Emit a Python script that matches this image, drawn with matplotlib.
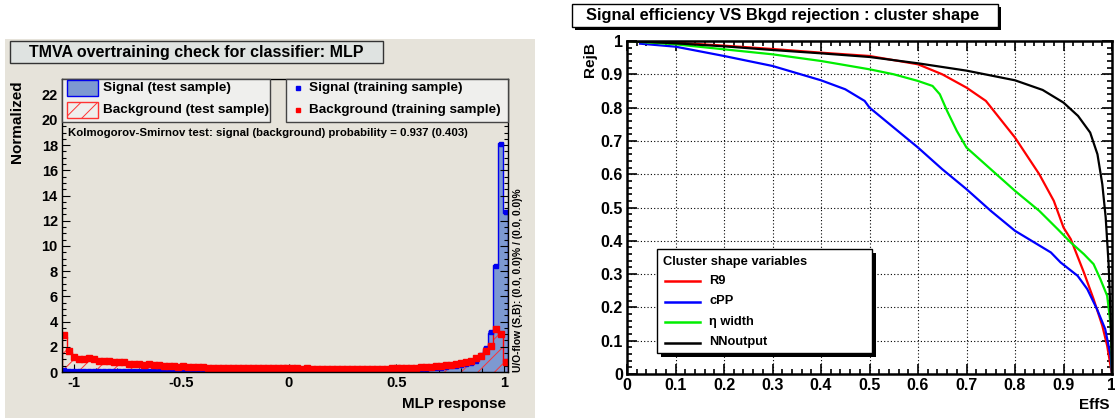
import numpy as np
import matplotlib
matplotlib.use("Agg")
import matplotlib.pyplot as plt
from matplotlib.patches import Rectangle
from matplotlib.ticker import MultipleLocator, FixedLocator

plt.rcParams["font.family"] = ["Liberation Sans", "DejaVu Sans"]
plt.rcParams["font.weight"] = "bold"
plt.rcParams["hatch.linewidth"] = 0.7

# ---- left panel: MLP response histograms (90 bins) ----
mlp_range = (-1.056, 1.019)
n_bins = 90

sig_test = [
    0.16, 0.06, 0.05, 0.05, 0.04, 0.05, 0.04, 0.05, 0.05, 0.04,
    0.05, 0.05, 0.05, 0.06, 0.05, 0.06, 0.06, 0.05, 0.06, 0.06,
    0.06, 0.07, 0.06, 0.07, 0.07, 0.06, 0.07, 0.07, 0.08, 0.07,
    0.07, 0.08, 0.07, 0.08, 0.08, 0.07, 0.08, 0.08, 0.08, 0.09,
    0.08, 0.09, 0.08, 0.09, 0.09, 0.08, 0.09, 0.10, 0.09, 0.09,
    0.10, 0.09, 0.10, 0.10, 0.10, 0.11, 0.10, 0.11, 0.11, 0.12,
    0.12, 0.12, 0.13, 0.13, 0.14, 0.14, 0.15, 0.16, 0.17, 0.18,
    0.19, 0.20, 0.22, 0.24, 0.26, 0.30, 0.33, 0.37, 0.42, 0.48,
    0.55, 0.62, 0.72, 0.85, 1.30, 1.80, 3.10, 8.50, 18.2, 12.6,
]
bkg_test = [
    2.80, 1.60, 1.20, 0.95, 1.00, 1.05, 1.10, 0.85, 0.90, 0.85,
    0.80, 0.82, 0.78, 0.62, 0.65, 0.60, 0.55, 0.58, 0.55, 0.57,
    0.50, 0.46, 0.45, 0.40, 0.44, 0.42, 0.36, 0.40, 0.38, 0.30,
    0.34, 0.33, 0.30, 0.32, 0.30, 0.29, 0.31, 0.30, 0.28, 0.30,
    0.30, 0.29, 0.31, 0.30, 0.28, 0.29, 0.30, 0.27, 0.28, 0.27,
    0.26, 0.27, 0.25, 0.26, 0.25, 0.27, 0.24, 0.25, 0.26, 0.24,
    0.23, 0.24, 0.22, 0.26, 0.25, 0.28, 0.27, 0.30, 0.29, 0.30,
    0.32, 0.33, 0.35, 0.38, 0.40, 0.44, 0.48, 0.52, 0.55, 0.60,
    0.68, 0.78, 0.88, 1.05, 1.25, 1.65, 2.20, 3.40, 3.00, 0.80,
]
sig_train = [
    0.15, 0.05, 0.05, 0.04, 0.05, 0.04, 0.05, 0.05, 0.04, 0.05,
    0.05, 0.06, 0.05, 0.05, 0.06, 0.06, 0.05, 0.06, 0.06, 0.07,
    0.06, 0.06, 0.07, 0.07, 0.06, 0.07, 0.07, 0.08, 0.07, 0.08,
    0.08, 0.07, 0.08, 0.08, 0.07, 0.08, 0.09, 0.08, 0.09, 0.08,
    0.09, 0.08, 0.09, 0.09, 0.10, 0.09, 0.09, 0.09, 0.10, 0.10,
    0.09, 0.10, 0.11, 0.10, 0.11, 0.10, 0.11, 0.12, 0.11, 0.12,
    0.13, 0.12, 0.13, 0.14, 0.13, 0.15, 0.16, 0.16, 0.18, 0.19,
    0.20, 0.21, 0.23, 0.25, 0.28, 0.31, 0.35, 0.38, 0.44, 0.50,
    0.57, 0.65, 0.75, 0.90, 1.35, 1.90, 3.20, 8.40, 18.1, 12.7,
]
bkg_train = [
    2.90, 1.70, 1.20, 1.00, 1.00, 1.10, 1.05, 0.90, 0.88, 0.85,
    0.82, 0.80, 0.80, 0.60, 0.66, 0.62, 0.57, 0.60, 0.52, 0.58,
    0.48, 0.47, 0.44, 0.42, 0.45, 0.40, 0.38, 0.42, 0.37, 0.32,
    0.35, 0.32, 0.31, 0.33, 0.29, 0.30, 0.32, 0.29, 0.30, 0.31,
    0.29, 0.30, 0.32, 0.29, 0.30, 0.28, 0.31, 0.28, 0.27, 0.28,
    0.27, 0.26, 0.26, 0.27, 0.24, 0.26, 0.25, 0.26, 0.25, 0.25,
    0.24, 0.23, 0.24, 0.25, 0.27, 0.27, 0.29, 0.29, 0.31, 0.31,
    0.33, 0.35, 0.36, 0.40, 0.42, 0.46, 0.50, 0.55, 0.57, 0.62,
    0.70, 0.80, 0.90, 1.10, 1.30, 1.70, 2.10, 3.40, 3.00, 0.80,
]
mlp_ticks = [-1, -0.5, 0, 0.5, 1]
mlp_ticklabels = ["-1", "-0.5", "0", "0.5", "1"]
norm_ticks = [0, 2, 4, 6, 8, 10, 12, 14, 16, 18, 20, 22]

# ---- right panel: ROC curves ----
effs_r9 = [0, 0.1, 0.2, 0.3, 0.4, 0.5, 0.6, 0.65, 0.7, 0.74, 0.8, 0.85, 0.88,
           0.9, 0.915, 0.942, 0.962, 0.98, 0.99, 0.998, 1.0]
rejb_r9 = [1, 0.995, 0.986, 0.976, 0.965, 0.955, 0.93, 0.9, 0.86, 0.82, 0.71,
           0.6, 0.52, 0.44, 0.405, 0.305, 0.225, 0.145, 0.085, 0.015, 0]
effs_cpp = [0.027, 0.1, 0.2, 0.3, 0.4, 0.45, 0.49, 0.5, 0.55, 0.6, 0.65, 0.7,
            0.75, 0.8, 0.874, 0.894, 0.929, 0.949, 0.969, 0.986, 0.997, 1.0]
rejb_cpp = [0.992, 0.983, 0.955, 0.925, 0.882, 0.855, 0.82, 0.80, 0.74, 0.68,
            0.615, 0.555, 0.49, 0.43, 0.365, 0.335, 0.295, 0.255, 0.195, 0.135,
            0.055, 0.0]
effs_eta = [0, 0.1, 0.2, 0.3, 0.4, 0.5, 0.55, 0.6, 0.63, 0.645, 0.66, 0.68, 0.7,
            0.75, 0.8, 0.85, 0.888, 0.915, 0.942, 0.962, 0.976, 0.99, 0.995,
            0.998, 0.999, 1.0]
rejb_eta = [1, 0.99, 0.975, 0.96, 0.94, 0.915, 0.9, 0.88, 0.865, 0.84, 0.79,
            0.73, 0.68, 0.615, 0.55, 0.49, 0.435, 0.395, 0.36, 0.33, 0.285,
            0.235, 0.175, 0.135, 0.08, 0.0]
effs_nn = [0, 0.1, 0.2, 0.3, 0.4, 0.5, 0.6, 0.7, 0.8, 0.857, 0.9, 0.93, 0.955,
           0.97, 0.98, 0.987, 0.993, 0.997, 1.0]
rejb_nn = [1, 0.993, 0.984, 0.973, 0.963, 0.952, 0.933, 0.911, 0.882, 0.853,
           0.815, 0.775, 0.725, 0.66, 0.57, 0.47, 0.33, 0.18, 0.0]
roc_names = ["R9", "cPP", "\u03b7 width", "NNoutput"]
roc_colors = ["#ff0000", "#0000ff", "#00ee00", "#000000"]
roc_ticks = [0, 0.1, 0.2, 0.3, 0.4, 0.5, 0.6, 0.7, 0.8, 0.9, 1]
roc_ticklabels = ["0", "0.1", "0.2", "0.3", "0.4", "0.5", "0.6", "0.7", "0.8", "0.9", "1"]

W, H = 1115, 418
BEIGE = "#e6e3da"


def frac(x0, y0, x1, y1):
    # pixel box (top-left origin) -> figure fraction rect
    return [x0 / W, 1 - y1 / H, (x1 - x0) / W, (y1 - y0) / H]


fig = plt.figure(figsize=(W / 100, H / 100), dpi=100)

bg = fig.add_axes([0, 0, 1, 1], zorder=-5)
bg.set_xlim(0, W)
bg.set_ylim(H, 0)
bg.axis("off")
bg.add_patch(Rectangle((5, 39), 530, 380, facecolor=BEIGE, edgecolor="none"))

# ---------- left: overtraining check ----------
ax = fig.add_axes(frac(62, 79, 508, 372))
ax.set_facecolor(BEIGE)
edges = np.linspace(mlp_range[0], mlp_range[1], n_bins + 1)
centers = 0.5 * (edges[:-1] + edges[1:])
half = 0.5 * (edges[1] - edges[0])

ax.stairs(sig_test, edges, fill=True, facecolor="#7d99d1", edgecolor="none")
ax.stairs(sig_test, edges, color="#0000ee", lw=1.0)
ax.stairs(bkg_test, edges, fill=True, facecolor="none", edgecolor="#ff3333",
          hatch="//", lw=0)
ax.stairs(bkg_test, edges, color="#ff0000", lw=1.0)
ax.errorbar(centers, sig_train, xerr=half, fmt="s", ms=3.2, color="#0000ee",
            elinewidth=2.0, capsize=0)
ax.errorbar(centers, bkg_train, xerr=half, fmt="s", ms=3.8, color="#ff0000",
            elinewidth=2.4, capsize=0)

ax.set_xlim(*mlp_range)
ax.set_ylim(0, 23.25)
ax.xaxis.set_major_locator(FixedLocator(mlp_ticks))
ax.set_xticklabels(mlp_ticklabels)
ax.xaxis.set_minor_locator(MultipleLocator(0.1))
ax.set_yticks(norm_ticks)
ax.yaxis.set_minor_locator(MultipleLocator(0.5))
ax.tick_params(which="both", direction="in", top=True, right=True,
               labelsize=10.5, pad=3, width=0.8)
ax.tick_params(which="major", length=6)
ax.tick_params(which="minor", length=3)
for s in ax.spines.values():
    s.set_linewidth(1.0)

# ---------- right: ROC ----------
ax2 = fig.add_axes(frac(627, 41, 1112, 374))
for e, r, c in zip([effs_r9, effs_cpp, effs_eta, effs_nn],
                   [rejb_r9, rejb_cpp, rejb_eta, rejb_nn], roc_colors):
    ax2.plot(e, r, color=c, lw=1.6, zorder=3)
ax2.set_xlim(0, 1)
ax2.set_ylim(0, 1)
ax2.set_xticks(roc_ticks)
ax2.set_xticklabels(roc_ticklabels)
ax2.set_yticks(roc_ticks)
ax2.set_yticklabels(roc_ticklabels)
ax2.xaxis.set_minor_locator(MultipleLocator(0.02))
ax2.yaxis.set_minor_locator(MultipleLocator(0.02))
ax2.grid(True, which="major", color="black", linestyle=(0, (1, 2)), lw=0.8)
ax2.tick_params(which="both", direction="in", top=True, right=True,
                labelsize=11.5, pad=3, width=1.2)
ax2.tick_params(which="major", length=7)
ax2.tick_params(which="minor", length=3.5)
for s in ax2.spines.values():
    s.set_linewidth(1.8)
    s.set_zorder(4)

# ---------- overlay: titles, legends, labels ----------
ov = fig.add_axes([0, 0, 1, 1], zorder=10)
ov.set_xlim(0, W)
ov.set_ylim(H, 0)
ov.axis("off")

# left title
ov.add_patch(Rectangle((10, 41), 373, 22, facecolor="#dfe3e1", edgecolor="#333333", lw=1))
ov.text(196, 52, "TMVA overtraining check for classifier: MLP", ha="center",
        va="center", fontsize=11.5)

# left legends
ov.add_patch(Rectangle((62, 79), 208, 43, facecolor="#efefed", edgecolor="#444444", lw=1))
ov.add_patch(Rectangle((67, 80), 31, 16, facecolor="#7d99d1", edgecolor="#0000ee", lw=1))
ov.add_patch(Rectangle((67, 102), 31, 16, facecolor="none", edgecolor="#ff3333",
                       hatch="//", lw=1))
ov.text(103, 88, "Signal (test sample)", va="center", fontsize=9.7)
ov.text(103, 110, "Background (test sample)", va="center", fontsize=9.7)

ov.add_patch(Rectangle((286, 79), 222, 43, facecolor="#efefed", edgecolor="#444444", lw=1))
ov.plot([298], [88], "s", ms=3, color="#0000ee")
ov.plot([298], [110], "s", ms=3, color="#ff0000")
ov.text(309, 88, "Signal (training sample)", va="center", fontsize=9.7)
ov.text(309, 110, "Background (training sample)", va="center", fontsize=9.7)

ov.text(68, 133, "Kolmogorov-Smirnov test: signal (background) probability = 0.937 (0.403)",
        va="center", fontsize=8.2)
ov.text(17, 80, "Normalized", rotation=90, ha="center", va="top", fontsize=11)
ov.text(506, 404, "MLP response", ha="right", va="center", fontsize=11)
ov.text(518, 372, "U/O-flow (S,B): (0.0, 0.0)% / (0.0, 0.0)%", rotation=90,
        ha="center", va="bottom", fontsize=7.4)

# right title with shadow
ov.add_patch(Rectangle((575, 7), 426, 23, facecolor="black", edgecolor="none"))
ov.add_patch(Rectangle((572, 4), 426, 23, facecolor="white", edgecolor="black", lw=1))
ov.text(783, 15.5, "Signal efficiency VS Bkgd rejection : cluster shape", ha="center",
        va="center", fontsize=11.8)

ov.text(590, 42, "RejB", rotation=90, ha="center", va="top", fontsize=11)
ov.text(1110, 405, "EffS", ha="right", va="center", fontsize=11)

# right legend with shadow
ov.add_patch(Rectangle((661, 253), 215, 104, facecolor="black", edgecolor="none"))
ov.add_patch(Rectangle((657, 249), 215, 104, facecolor="white", edgecolor="black", lw=1))
ov.text(663, 262, "Cluster shape variables", va="center", fontsize=9.3)
for i, (name, c) in enumerate(zip(roc_names, roc_colors)):
    yy = 281 + i * 20.5
    ov.plot([665, 700], [yy, yy], color=c, lw=1.8)
    ov.text(709, yy, name, va="center", fontsize=9.3)

fig.savefig("out.png", dpi=100)
